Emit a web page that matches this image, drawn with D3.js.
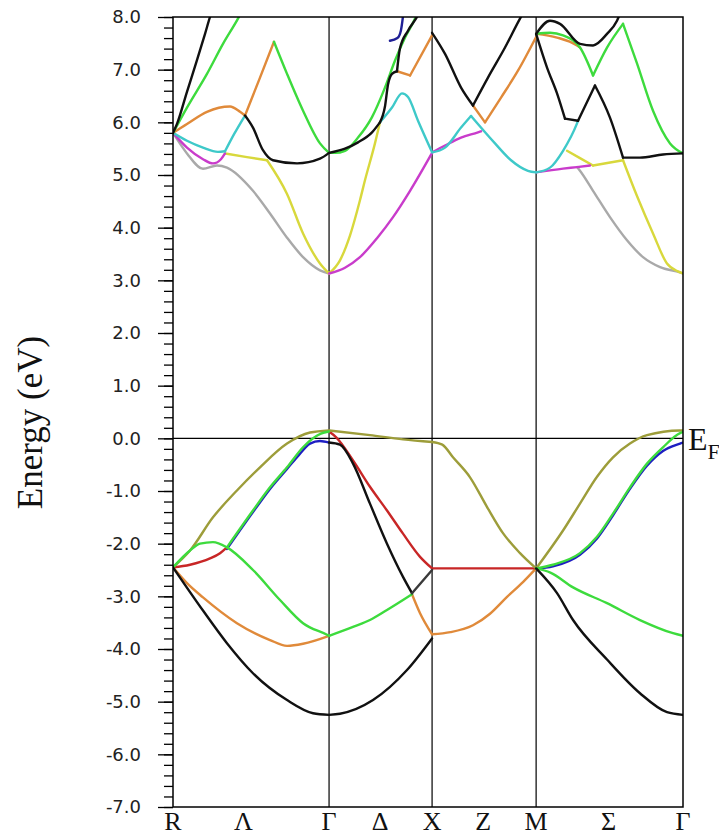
<!DOCTYPE html>
<html lang="en">
<head>
<meta charset="UTF-8">
<title>Band structure</title>
<script src="https://d3js.org/d3.v7.min.js"></script>
<style>
  body { margin: 0; background: #fff; }
  svg { display: block; }
  .axis .tick text { font-family: "DejaVu Sans", sans-serif; font-size: 18px; fill: #222; }
  .axis .tick line { stroke: #000; stroke-width: 1.3; }
  .axis .domain { display: none; }
  .band { fill: none; stroke-width: 2.4; stroke-linejoin: round; stroke-linecap: round; }
  .klabel { font-family: "Liberation Serif", "Times New Roman", serif; font-size: 26px; fill: #111; }
</style>
</head>
<body>
<div id="chart"></div>
<script>
// high symmetry points along the k path (R, Γ, X, M, Γ)
const kPoints = [0, 1.53, 2.54, 3.56, 5.0];
const kLabels = ["R", "Λ", "Γ", "Δ", "X", "Z", "M", "Σ", "Γ"];
const kLabelPos = [0, 0.69, 1.53, 2.03, 2.54, 3.04, 3.56, 4.27, 5.0];
const energyTicks = [8, 7, 6, 5, 4, 3, 2, 1, 0, -1, -2, -3, -4, -5, -6, -7];

// bands, [k, E (eV)], grouped by colour
const blackBands = [
    [[0, -2.45], [0.294, -3.27], [0.529, -3.89], [0.784, -4.46], [1.118, -4.97], [1.373, -5.22], [1.53, -5.25]],
    [[1.53, -0.08], [1.637, -0.12], [1.765, -0.48], [1.931, -1.24], [2.098, -2.0], [2.255, -2.63], [2.343, -2.94]],
    [[1.53, -5.25], [1.637, -5.23], [1.961, -4.97], [2.294, -4.4], [2.54, -3.8]],
    [[3.56, -2.47], [3.765, -2.94], [3.922, -3.45], [4.255, -4.2], [4.578, -4.84], [4.843, -5.2], [5.0, -5.25]],
    [[0, 5.8], [0.039, 5.97], [0.137, 6.58], [0.235, 7.18], [0.314, 7.68], [0.363, 8.0], [0.4, 8.2]],
    [[0.706, 6.13], [0.784, 5.9], [0.882, 5.47], [0.98, 5.28], [1.216, 5.22], [1.441, 5.31], [1.53, 5.42]],
    [[1.53, 5.42], [1.686, 5.5], [1.814, 5.62], [1.951, 5.81], [2.029, 6.0]],
    [[2.029, 6.0], [2.078, 6.3], [2.108, 6.72], [2.147, 6.92], [2.196, 6.97]],
    [[2.196, 6.97], [2.225, 7.4], [2.304, 7.74], [2.392, 8.0], [2.42, 8.1]],
    [[2.54, 7.7], [2.667, 7.3], [2.824, 6.66], [2.941, 6.32]],
    [[2.941, 6.32], [3.088, 6.85], [3.255, 7.42], [3.402, 7.97], [3.44, 8.1]],
    [[3.56, 7.68], [3.696, 7.93], [3.794, 7.87], [3.99, 7.49], [4.118, 7.46], [4.255, 7.68], [4.353, 7.93], [4.38, 8.05]],
    [[3.56, 7.68], [3.667, 7.04], [3.765, 6.55], [3.843, 6.07]],
    [[3.843, 6.07], [3.971, 6.03]],
    [[3.971, 6.03], [4.137, 6.7]],
    [[4.137, 6.7], [4.284, 6.09], [4.412, 5.33]],
    [[4.412, 5.33], [4.578, 5.33], [4.804, 5.39], [5.0, 5.41]]
];
const darkBands = [
    [[2.343, -2.94], [2.54, -2.5]]
];
const greenBands = [
    [[0, -2.45], [0.167, -2.13], [0.265, -2.0], [0.392, -1.97], [0.529, -2.07], [0.784, -2.5], [1.049, -3.07], [1.275, -3.51], [1.51, -3.73], [1.53, -3.75]],
    [[0.529, -2.07], [0.784, -1.37], [0.951, -0.93], [1.118, -0.55], [1.275, -0.17], [1.373, 0.0], [1.45, 0.09], [1.53, 0.13]],
    [[1.53, -3.75], [1.765, -3.58], [1.931, -3.45], [2.098, -3.26], [2.255, -3.07], [2.343, -2.96]],
    [[3.56, -2.47], [3.725, -2.4], [3.99, -2.18], [4.157, -1.87], [4.314, -1.43], [4.48, -0.93], [4.647, -0.48], [4.804, -0.17], [4.971, 0.1], [5.0, 0.12]],
    [[3.56, -2.47], [3.7, -2.55], [3.922, -2.83], [4.255, -3.13], [4.578, -3.45], [4.902, -3.7], [5.0, -3.75]],
    [[0, 5.8], [0.137, 6.28], [0.333, 6.92], [0.49, 7.49], [0.637, 7.97], [0.7, 8.2]],
    [[0.99, 7.53], [1.118, 6.92], [1.275, 6.22], [1.441, 5.6], [1.53, 5.42]],
    [[1.53, 5.42], [1.588, 5.42], [1.686, 5.46], [1.814, 5.71], [1.951, 6.1], [2.078, 6.66], [2.176, 7.17], [2.275, 7.61], [2.373, 7.97], [2.42, 8.2]],
    [[3.56, 7.68], [3.696, 7.7], [3.824, 7.65], [3.99, 7.42], [4.118, 6.89]],
    [[4.118, 6.89], [4.255, 7.42], [4.412, 7.87]],
    [[4.412, 7.87], [4.549, 7.12], [4.706, 6.22], [4.873, 5.6], [5.0, 5.41]]
];
const orangeBands = [
    [[0, -2.45], [0.137, -2.75], [0.294, -3.02], [0.627, -3.51], [0.951, -3.83], [1.118, -3.94], [1.275, -3.9], [1.53, -3.75]],
    [[2.343, -2.96], [2.422, -3.32], [2.54, -3.72]],
    [[2.54, -3.72], [2.72, -3.68], [2.941, -3.55], [3.108, -3.33], [3.275, -3.01], [3.431, -2.73], [3.56, -2.47]],
    [[0, 5.8], [0.137, 5.97], [0.333, 6.2], [0.559, 6.3], [0.657, 6.2], [0.706, 6.13]],
    [[0.706, 6.13], [0.853, 6.85], [0.99, 7.53]],
    [[2.196, 6.97], [2.324, 6.89]],
    [[2.324, 6.89], [2.54, 7.65]],
    [[2.941, 6.32], [3.059, 6.0]],
    [[3.059, 6.0], [3.216, 6.47], [3.382, 6.98], [3.56, 7.62]],
    [[3.56, 7.68], [3.765, 7.61], [3.961, 7.46], [3.99, 7.42]]
];
const cyanBands = [
    [[0, 5.8], [0.137, 5.65], [0.294, 5.52], [0.44, 5.44], [0.51, 5.45]],
    [[0.51, 5.45], [0.6, 5.78], [0.706, 6.13]],
    [[2.029, 6.0], [2.147, 6.28], [2.245, 6.55], [2.304, 6.48], [2.402, 6.03], [2.54, 5.43]],
    [[2.54, 5.43], [2.667, 5.52], [2.824, 5.9], [2.922, 6.12]],
    [[2.922, 6.12], [3.157, 5.6], [3.314, 5.28], [3.48, 5.08], [3.56, 5.05]],
    [[3.56, 5.05], [3.696, 5.14], [3.824, 5.46], [3.961, 5.98], [3.971, 6.03]]
];
const magentaBands = [
    [[0, 5.8], [0.137, 5.52], [0.294, 5.3], [0.392, 5.22], [0.47, 5.3], [0.51, 5.41]],
    [[1.53, 3.13], [1.686, 3.24], [1.833, 3.44], [2.0, 3.8], [2.157, 4.2], [2.324, 4.7], [2.54, 5.42]],
    [[2.54, 5.43], [2.667, 5.56], [2.824, 5.71], [2.99, 5.81], [3.02, 5.83]],
    [[3.56, 5.05], [3.824, 5.12], [3.961, 5.15], [4.088, 5.18]]
];
const grayBands = [
    [[0, 5.8], [0.137, 5.41], [0.294, 5.12], [0.431, 5.18], [0.529, 5.14], [0.784, 4.7], [0.951, 4.27], [1.118, 3.81], [1.275, 3.44], [1.441, 3.19], [1.53, 3.13]],
    [[3.961, 5.15], [3.99, 5.08], [4.118, 4.7], [4.284, 4.2], [4.451, 3.76], [4.608, 3.44], [4.775, 3.25], [4.971, 3.15], [5.0, 3.13]]
];
const yellowBands = [
    [[0.51, 5.41], [0.725, 5.34], [0.922, 5.28]],
    [[0.922, 5.28], [1.118, 4.64], [1.275, 3.89], [1.441, 3.32], [1.53, 3.13]],
    [[1.53, 3.13], [1.637, 3.38], [1.735, 3.85], [1.833, 4.52], [1.882, 4.9], [1.98, 5.6], [2.029, 6.0]],
    [[3.863, 5.46], [3.99, 5.32], [4.118, 5.18]],
    [[4.118, 5.18], [4.412, 5.28]],
    [[4.412, 5.28], [4.549, 4.6], [4.706, 3.89], [4.843, 3.32], [4.95, 3.17], [5.0, 3.13]]
];
const oliveBands = [
    [[0, -2.45], [0.167, -2.13], [0.392, -1.5], [0.627, -0.99], [0.853, -0.55], [1.118, -0.1], [1.343, 0.11], [1.53, 0.15]],
    [[1.53, 0.15], [1.931, 0.06], [2.255, -0.02], [2.54, -0.07]],
    [[2.54, -0.07], [2.64, -0.12], [2.745, -0.36], [2.912, -0.74], [3.078, -1.3], [3.235, -1.8], [3.402, -2.18], [3.56, -2.47]],
    [[3.56, -2.47], [3.824, -1.75], [3.99, -1.24], [4.157, -0.73], [4.314, -0.36], [4.48, -0.1], [4.647, 0.06], [4.971, 0.15], [5.0, 0.15]]
];
const redBands = [
    [[0, -2.45], [0.167, -2.4], [0.363, -2.28], [0.461, -2.18], [0.529, -2.07]],
    [[1.53, 0.13], [1.6, 0.02], [1.765, -0.42], [1.931, -0.92], [2.098, -1.37], [2.255, -1.81], [2.422, -2.25], [2.54, -2.47]],
    [[2.54, -2.47], [3.56, -2.47]]
];
const blueBands = [
    [[0.529, -2.1], [0.784, -1.4], [0.951, -0.96], [1.118, -0.58], [1.216, -0.36], [1.343, -0.1], [1.441, -0.05], [1.53, -0.08]],
    [[3.56, -2.47], [3.725, -2.43], [3.99, -2.21], [4.157, -1.9], [4.314, -1.46], [4.48, -0.96], [4.647, -0.52], [4.804, -0.24], [4.971, -0.1], [5.0, -0.08]]
];
const navyBands = [
    [[2.127, 7.55], [2.2, 7.6], [2.235, 7.75], [2.26, 8.1]]
];

const W = 719, H = 839;
const margin = { top: 17, right: 36, bottom: 32, left: 173 };

const svg = d3.select("#chart").append("svg")
    .attr("width", W)
    .attr("height", H);

const x = d3.scaleLinear()
    .domain([kPoints[0], kPoints[kPoints.length - 1]])
    .range([margin.left, W - margin.right]);
const y = d3.scaleLinear()
    .domain([-7, 8])
    .range([H - margin.bottom, margin.top]);

svg.append("clipPath").attr("id", "plot-clip")
    .append("rect")
    .attr("x", x.range()[0]).attr("y", y.range()[1])
    .attr("width", x.range()[1] - x.range()[0])
    .attr("height", y.range()[0] - y.range()[1]);

// vertical lines at high symmetry points and the Fermi level
svg.append("g")
    .selectAll("line")
    .data(kPoints.slice(1, -1))
    .join("line")
    .attr("x1", d => x(d)).attr("x2", d => x(d))
    .attr("y1", y(8)).attr("y2", y(-7))
    .attr("stroke", "#000").attr("stroke-width", 1.2);

svg.append("line")
    .attr("x1", x.range()[0]).attr("x2", x.range()[1])
    .attr("y1", y(0)).attr("y2", y(0))
    .attr("stroke", "#000").attr("stroke-width", 1.2);

// bands
const line = d3.line()
    .x(d => x(d[0]))
    .y(d => y(d[1]))
    .curve(d3.curveMonotoneX);

const bandSets = [
    { color: "#a9a9a9", lines: grayBands },
    { color: "#d8d83c", lines: yellowBands },
    { color: "#c93ccb", lines: magentaBands },
    { color: "#3ec9c9", lines: cyanBands },
    { color: "#1e1ec2", lines: blueBands },
    { color: "#1f1f96", lines: navyBands },
    { color: "#e08a3a", lines: orangeBands },
    { color: "#c82626", lines: redBands },
    { color: "#9d9d3a", lines: oliveBands },
    { color: "#3ddb3d", lines: greenBands },
    { color: "#111", lines: blackBands },
    { color: "#3a3a3a", lines: darkBands }
];

const bands = svg.append("g").attr("clip-path", "url(#plot-clip)");
bandSets.forEach(set => {
    bands.append("g")
        .selectAll("path")
        .data(set.lines)
        .join("path")
        .attr("class", "band")
        .attr("stroke", set.color)
        .attr("d", line);
});

// frame
svg.append("rect")
    .attr("x", x.range()[0]).attr("y", y.range()[1])
    .attr("width", x.range()[1] - x.range()[0])
    .attr("height", y.range()[0] - y.range()[1])
    .attr("fill", "none").attr("stroke", "#000").attr("stroke-width", 1.5);

// energy axis, major and minor ticks
svg.append("g")
    .attr("class", "axis")
    .attr("transform", `translate(${margin.left},0)`)
    .call(d3.axisLeft(y).tickValues(y.ticks(75)).tickSize(9).tickFormat(""));

svg.append("g")
    .attr("class", "axis")
    .attr("transform", `translate(${margin.left},0)`)
    .call(d3.axisLeft(y).tickValues(energyTicks).tickSize(15).tickPadding(17)
        .tickFormat(d => d.toFixed(1)));

svg.append("text")
    .attr("transform", `translate(42,${y(0.3)}) rotate(-90)`)
    .attr("text-anchor", "middle")
    .style("font-family", "'Liberation Serif', serif")
    .style("font-size", "35px")
    .attr("fill", "#111")
    .text("Energy (eV)");

// k path labels
svg.append("g")
    .selectAll("text")
    .data(kLabels)
    .join("text")
    .attr("class", "klabel")
    .attr("x", (d, i) => x(kLabelPos[i]))
    .attr("y", H - 9)
    .attr("text-anchor", "middle")
    .text(d => d);

// Fermi level label
const ef = svg.append("text")
    .attr("x", x.range()[1] + 5)
    .attr("y", y(0) + 12)
    .style("font-family", "'Liberation Serif', serif")
    .attr("fill", "#111");
ef.append("tspan").style("font-size", "32px").text("E");
ef.append("tspan").style("font-size", "22px").attr("dy", 9).text("F");
</script>
</body>
</html>
